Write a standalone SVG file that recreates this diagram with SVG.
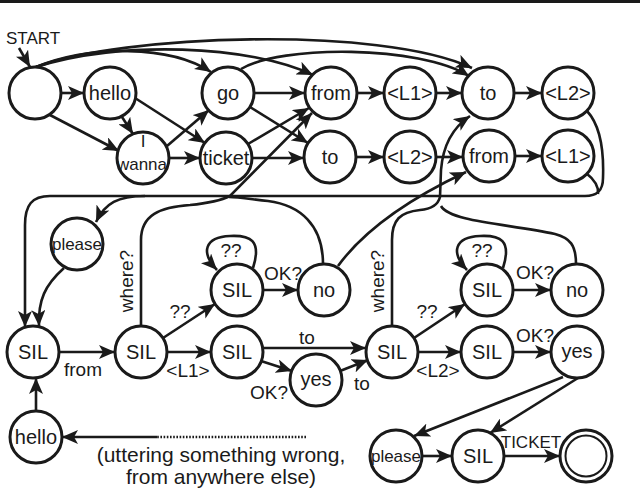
<svg xmlns="http://www.w3.org/2000/svg" width="640" height="489" viewBox="0 0 640 489">
<defs>
<style>
.n circle{fill:#fff;stroke:#1a1a1a;stroke-width:3}
.t{font-family:"Liberation Sans",Arial,sans-serif;font-size:20px;fill:#1a1a1a;text-anchor:middle}
.s{font-size:17px}
.l{font-family:"Liberation Sans",Arial,sans-serif;font-size:19px;fill:#1a1a1a;text-anchor:middle}
#edges path{fill:none;stroke:#1a1a1a;stroke-width:2.6}
#edges path.a{marker-end:url(#ah)}
#edges path.d{stroke-dasharray:1.6 1.6;stroke-width:2.4}
</style>
<marker id="ah" markerWidth="17" markerHeight="14" refX="16" refY="7" orient="auto" markerUnits="userSpaceOnUse"><path d="M0,0 L16,7 L0,14 L4,7 z" fill="#1a1a1a"/></marker>
</defs>
<rect x="0" y="0" width="640" height="3" fill="#1a1a1a"/>

<g id="edges">
<path class="a" d="M19,48 L30,67"/>
<path class="a" d="M36,67 C120,35 380,25 472,68"/>
<path class="a" d="M36,67 C90,45 170,45 211,72"/>
<path class="a" d="M36,67 C120,40 250,45 313,75"/>
<path class="a" d="M241,69 C280,45 420,45 469,76"/>
<path class="a" d="M61,93 L84,93"/>
<path class="a" d="M50,115 L119,151"/>
<path class="a" d="M122,117 L133,134"/>
<path class="a" d="M135,98 L205,143"/>
<path class="a" d="M167,146 L209,110"/>
<path class="a" d="M169,158 L200,158"/>
<path class="a" d="M254,93 L305,93"/>
<path class="a" d="M250,107 L308,143"/>
<path class="a" d="M248,144 L309,108"/>
<path class="a" d="M252,158 L304,158"/>
<path class="a" d="M357,93 L384,93"/>
<path class="a" d="M436,93 L462,93"/>
<path class="a" d="M514,93 L542,93"/>
<path class="a" d="M356,157 L384,157"/>
<path class="a" d="M436,157 L463,157"/>
<path class="a" d="M515,156 L542,156"/>
<path class="a" d="M587,111 C600,125 604,150 603,178 C603,192 596,196 585,196 L50,196 C32,196 25,205 25,225 L25,327"/>
<path d="M586,173 C595,180 599,186 598,194"/>
<path class="a" d="M145,196 C118,196 105,203 96,222"/>
<path class="a" d="M64,268 C45,285 38,300 39,326"/>
<path class="a" d="M141,326 L141,240 C141,215 160,207 190,205 C210,203 220,201 230,196 L312,113"/>
<path d="M323,264 C323,225 300,205 268,201 C250,199 238,197 229,197"/>
<path class="a" d="M338,266 Q375,215 466,172"/>
<path class="a" d="M392,326 L392,240 C392,220 400,212 420,210 C432,209 438,205 440,197 L441,170 C443,145 452,128 470,116"/>
<path d="M576,264 C576,245 570,238 555,234 C510,224 450,222 441,206"/>
<path class="a" d="M59,352 L115,352"/>
<path class="a" d="M167,352 L211,352"/>
<path class="a" d="M163,338 L215,304"/>
<path class="a" d="M263,290 L298,290"/>
<path class="a" d="M253,268 C262,240 250,235 230,236 C205,237 200,252 217,270"/>
<path class="a" d="M263,348 L366,348"/>
<path class="a" d="M261,361 L292,371"/>
<path class="a" d="M340,371 L368,360"/>
<path class="a" d="M418,352 L461,352"/>
<path class="a" d="M414,338 L465,304"/>
<path class="a" d="M513,290 L551,290"/>
<path class="a" d="M503,268 C512,240 500,235 480,236 C455,237 450,252 467,270"/>
<path class="a" d="M513,352 L551,352"/>
<path class="a" d="M563,377 L414,436"/>
<path class="a" d="M578,378 L490,433"/>
<path class="a" d="M422,456 L452,456"/>
<path class="a" d="M504,456 L560,456"/>
<path class="a" d="M36,411 L36,378"/>
<path class="d" d="M306,437 L156,437"/>
<path class="a" d="M157,437 L62,437"/>
</g>

<g id="n_start" class="n"><circle cx="35" cy="93" r="26"/></g>
<g id="n_hello" class="n"><circle cx="110" cy="93" r="26"/><text class="t" x="110" y="100">hello</text></g>
<g id="n_go" class="n"><circle cx="228" cy="93" r="26"/><text class="t" x="228" y="100">go</text></g>
<g id="n_from1" class="n"><circle cx="331" cy="93" r="26"/><text class="t" x="331" y="100">from</text></g>
<g id="n_L1a" class="n"><circle cx="410" cy="93" r="26"/><text class="t" x="410" y="100">&lt;L1&gt;</text></g>
<g id="n_to1" class="n"><circle cx="488" cy="93" r="26"/><text class="t" x="488" y="100">to</text></g>
<g id="n_L2a" class="n"><circle cx="568" cy="93" r="26"/><text class="t" x="568" y="100">&lt;L2&gt;</text></g>
<g id="n_wanna" class="n"><circle cx="143" cy="158" r="26"/><text class="t s" x="143" y="147">I</text><text class="t s" x="142" y="170">wanna</text></g>
<g id="n_ticket" class="n"><circle cx="226" cy="158" r="26"/><text class="t" x="226" y="165">ticket</text></g>
<g id="n_to2" class="n"><circle cx="330" cy="157" r="26"/><text class="t" x="330" y="164">to</text></g>
<g id="n_L2b" class="n"><circle cx="410" cy="157" r="26"/><text class="t" x="410" y="164">&lt;L2&gt;</text></g>
<g id="n_from2" class="n"><circle cx="489" cy="156" r="26"/><text class="t" x="489" y="163">from</text></g>
<g id="n_L1b" class="n"><circle cx="568" cy="156" r="26"/><text class="t" x="568" y="163">&lt;L1&gt;</text></g>
<g id="n_please" class="n"><circle cx="77" cy="244" r="26"/><text class="t s" x="77" y="250">please</text></g>
<g id="n_silA" class="n"><circle cx="33" cy="352" r="26"/><text class="t" x="33" y="359">SIL</text></g>
<g id="n_silB" class="n"><circle cx="141" cy="352" r="26"/><text class="t" x="141" y="359">SIL</text></g>
<g id="n_silC" class="n"><circle cx="237" cy="290" r="26"/><text class="t" x="237" y="297">SIL</text></g>
<g id="n_noA" class="n"><circle cx="324" cy="290" r="26"/><text class="t" x="324" y="297">no</text></g>
<g id="n_silD" class="n"><circle cx="237" cy="352" r="26"/><text class="t" x="237" y="359">SIL</text></g>
<g id="n_yesA" class="n"><circle cx="316" cy="380" r="26"/><text class="t" x="316" y="386">yes</text></g>
<g id="n_silE" class="n"><circle cx="392" cy="352" r="26"/><text class="t" x="392" y="359">SIL</text></g>
<g id="n_silF" class="n"><circle cx="487" cy="290" r="26"/><text class="t" x="487" y="297">SIL</text></g>
<g id="n_noB" class="n"><circle cx="577" cy="290" r="26"/><text class="t" x="577" y="297">no</text></g>
<g id="n_silG" class="n"><circle cx="487" cy="352" r="26"/><text class="t" x="487" y="359">SIL</text></g>
<g id="n_yesB" class="n"><circle cx="577" cy="352" r="26"/><text class="t" x="577" y="358">yes</text></g>
<g id="n_hello2" class="n"><circle cx="36" cy="437" r="26"/><text class="t" x="36" y="444">hello</text></g>
<g id="n_please2" class="n"><circle cx="396" cy="456" r="26"/><text class="t s" x="396" y="462">please</text></g>
<g id="n_silH" class="n"><circle cx="478" cy="456" r="26"/><text class="t" x="478" y="463">SIL</text></g>
<g id="n_final" class="n"><circle cx="586" cy="456" r="26"/><circle cx="586" cy="456" r="20.5" style="stroke-width:2"/></g>

<g id="labels">
<text class="l" x="6" y="44" style="text-anchor:start;font-size:17px">START</text>
<text class="l" x="83" y="376">from</text>
<text class="l" x="188" y="377">&lt;L1&gt;</text>
<text class="l" x="180" y="318">??</text>
<text class="l" x="231" y="257">??</text>
<text class="l" x="283" y="280">OK?</text>
<text class="l" x="307" y="344">to</text>
<text class="l" x="269" y="399">OK?</text>
<text class="l" x="362" y="390">to</text>
<text class="l" transform="translate(133,281) rotate(-90)">where?</text>
<text class="l" transform="translate(384,281) rotate(-90)">where?</text>
<text class="l" x="427" y="318">??</text>
<text class="l" x="482" y="257">??</text>
<text class="l" x="535" y="279">OK?</text>
<text class="l" x="535" y="342">OK?</text>
<text class="l" x="438" y="377">&lt;L2&gt;</text>
<text class="l" x="531" y="448" style="font-size:17px">TICKET</text>
<text class="l" x="221" y="462" style="font-size:21px">(uttering something wrong,</text>
<text class="l" x="221" y="484" style="font-size:21px">from anywhere else)</text>
</g>
</svg>
